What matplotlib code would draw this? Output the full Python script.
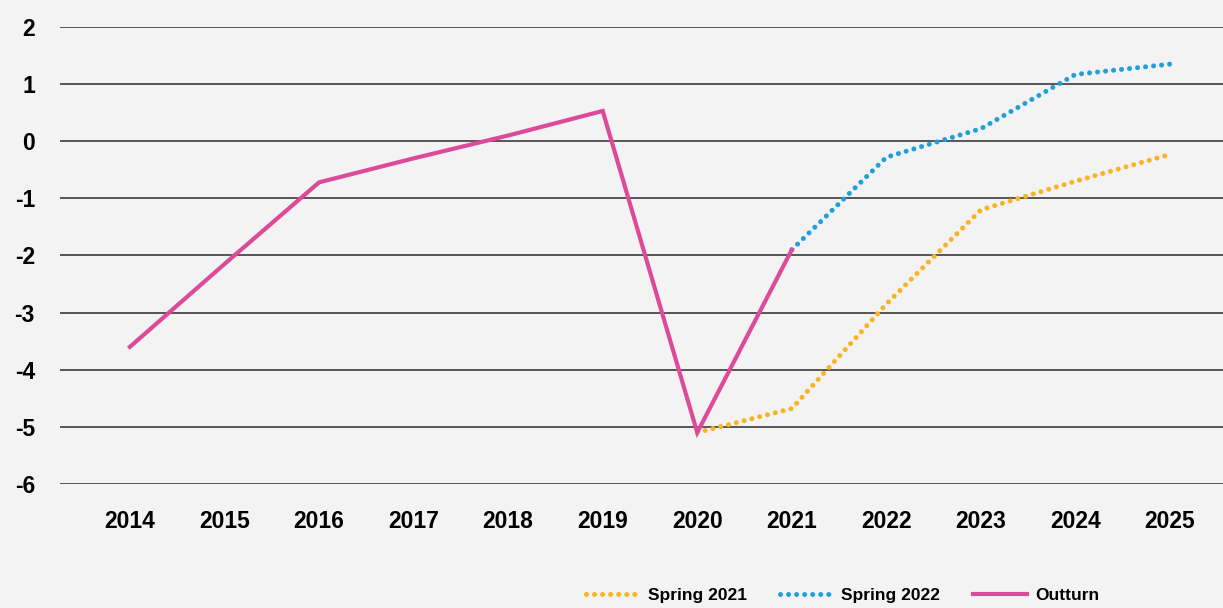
import matplotlib.pyplot as plt

years = list(range(2014, 2026))

outturn_years = [2014, 2015, 2016, 2017, 2018, 2019, 2020, 2021]
outturn = [-3.6, -2.15, -0.72, -0.3, 0.1, 0.53, -5.1, -1.9]

spring21_years = [2020, 2021, 2022, 2023, 2024, 2025]
spring21 = [-5.1, -4.68, -2.85, -1.2, -0.7, -0.23]

spring22_years = [2021, 2022, 2023, 2024, 2025]
spring22 = [-1.9, -0.28, 0.22, 1.17, 1.35]

yticks = [-6, -5, -4, -3, -2, -1, 0, 1, 2]

bg = '#f2f3f2'
plt.rcParams['font.family'] = ['Liberation Sans', 'DejaVu Sans']
plt.rcParams['axes.unicode_minus'] = False

fig = plt.figure(figsize=(12.23, 6.08), dpi=100, facecolor=bg)
ax = fig.add_axes([0.049, 0.204, 0.951, 0.7516], facecolor=bg)

ax.plot(spring21_years, spring21, color='#fbb321', lw=3.6,
        linestyle=(0, (0.01, 1.6)), dash_capstyle='round', label='Spring 2021')
ax.plot(spring22_years, spring22, color='#1fa0dd', lw=3.6,
        linestyle=(0, (0.01, 1.6)), dash_capstyle='round', label='Spring 2022')
ax.plot(outturn_years, outturn, color='#dd4a9a', lw=3, label='Outturn',
        solid_joinstyle='miter')

ax.set_xlim(2013.26, 2025.56)
ax.set_ylim(-6, 2)
ax.set_yticks(yticks)
ax.set_xticks(years)
ax.set_xticklabels([str(y) for y in years])
ax.grid(axis='y', color='#555555', lw=1.4)
ax.set_axisbelow(True)
for s in ax.spines.values():
    s.set_visible(False)
ax.tick_params(axis='both', length=0, labelsize=16.5)
ax.tick_params(axis='y', pad=18)
ax.tick_params(axis='x', pad=19)
for lbl in ax.get_xticklabels() + ax.get_yticklabels():
    lbl.set_fontweight('bold')

leg = fig.legend(loc='center left', bbox_to_anchor=(0.4665, 0.02), ncol=3,
                 frameon=False, handlelength=3.1,
                 handletextpad=0.45, columnspacing=1.9,
                 prop={'weight': 'bold', 'size': 12.5})

fig.savefig('out.png', dpi=100, facecolor=bg)
